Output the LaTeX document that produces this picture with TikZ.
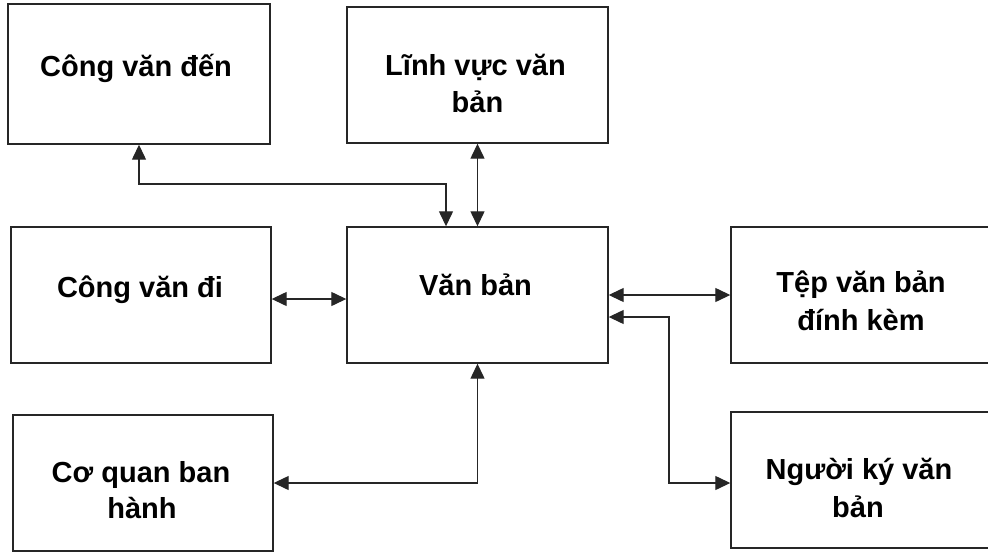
\documentclass[tikz,border=0pt]{standalone}
\usepackage{fontspec}
\setmainfont{Liberation Sans}
\usetikzlibrary{arrows.meta,calc}
\tikzset{
  box/.style={draw=black!85, line width=1.4pt, inner sep=0pt, minimum width=261pt, minimum height=136pt},
  lbl/.style={anchor=base, inner sep=0pt, font=\fontsize{29}{35}\selectfont\bfseries},
  tip/.style={Triangle[length=15pt,width=14pt]},
  conn/.style={draw=black!85, line width=1.3pt, {Triangle[length=15pt,width=14pt]}-{Triangle[length=15pt,width=14pt]}}
}
\begin{document}
\begin{tikzpicture}[x=1pt,y=-1pt]
\useasboundingbox (0,0) rectangle (988,552);
\clip (0,0) rectangle (988,552);
% boxes
\node[box, minimum width=262pt, minimum height=140pt] (b1) at (139,74) {};
\node[box] (b2) at (477.5,75) {};
\node[box, minimum width=260pt] (b3) at (141,295) {};
\node[box] (b4) at (477.5,295) {};
\node[box, minimum width=260pt] (b5) at (861,295) {};
\node[box, minimum width=260pt] (b6) at (143,483) {};
\node[box, minimum width=260pt] (b7) at (861,480) {};
% labels
\node[lbl] (t1) at ($(b1.center)+(-3,2)$) {Công văn đến};
\node[lbl] (t2a) at ($(b2.center)+(-2,0)$) {Lĩnh vực văn};
\node[lbl] (t2b) at ($(b2.center)+(0,37)$) {bản};
\node[lbl] (t3) at ($(b3.center)+(-1,2)$) {Công văn đi};
\node[lbl] (t4) at ($(b4.center)+(-2,0)$) {Văn bản};
\node[lbl] (t5a) at ($(b5.center)+(0,-3)$) {Tệp văn bản};
\node[lbl] (t5b) at ($(b5.center)+(0,35)$) {đính kèm};
\node[lbl] (t6a) at ($(b6.center)+(-2,-1)$) {Cơ quan ban};
\node[lbl] (t6b) at ($(b6.center)+(-1,35)$) {hành};
\node[lbl] (t7a) at ($(b7.center)+(-2,-1)$) {Người ký văn};
\node[lbl] (t7b) at ($(b7.center)+(-3,37)$) {bản};
% helper coordinates
\coordinate (c1) at (446,184);
\coordinate (c2) at (669,483);
% connectors
\draw[conn] (b1.south) |- (c1) -- (b4.north -| c1);
\draw[conn] (b2.south) -- (b4.north);
\draw[conn] ($(b3.east)+(0,4)$) -- ($(b4.west)+(0,4)$);
\draw[conn] (b4.east) -- (b5.west);
\draw[conn] ($(b4.east)+(0,22)$) -| (c2) -- (b7.west |- c2);
\draw[conn] (b4.south) |- (b6.east);
\end{tikzpicture}
\end{document}
